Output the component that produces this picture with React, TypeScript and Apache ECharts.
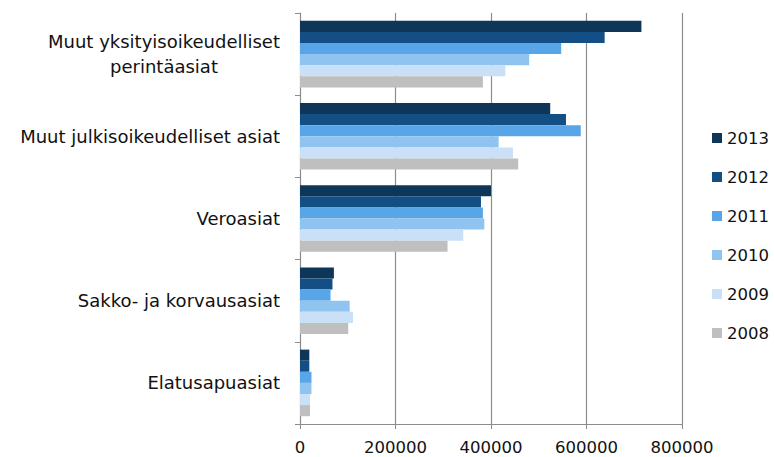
import React, { useEffect, useRef } from "react";
import * as echarts from "echarts";

const categories = [
  "Elatusapuasiat",
  "Sakko- ja korvausasiat",
  "Veroasiat",
  "Muut julkisoikeudelliset asiat",
  "Muut yksityisoikeudelliset\nperintäasiat",
];
const years = ["2013", "2012", "2011", "2010", "2009", "2008"];
const values2013 = [19500, 71000, 400000, 524000, 715000];
const values2012 = [19500, 68000, 379000, 557000, 638000];
const values2011 = [24000, 64000, 383000, 588000, 547000];
const values2010 = [24000, 104000, 386000, 416000, 480000];
const values2009 = [21000, 111000, 342000, 446000, 430000];
const values2008 = [21000, 101000, 309000, 457000, 383000];
const xTicks = [0, 200000, 400000, 600000, 800000];
const colors = ["#0D3659", "#134E84", "#58A6E8", "#8FC4F1", "#C9E0F7", "#BFBFBF"];

const FONT = "DejaVu Sans";
const CAT_SIZE = 18;

export default function App() {
  const ref = useRef<HTMLDivElement>(null);
  useEffect(() => {
    if (!ref.current) return;
    const chart = echarts.init(ref.current, undefined, { renderer: "svg" });
    const ctx = document.createElement("canvas").getContext("2d")!;
    ctx.font = `${CAT_SIZE}px ${FONT}`;
    const firstLineW = Math.ceil(ctx.measureText("Muut yksityisoikeudelliset").width);
    const allValues = [values2013, values2012, values2011, values2010, values2009, values2008];
    chart.setOption({
      animation: false,
      textStyle: { fontFamily: FONT },
      grid: { left: 300, right: 92, top: 13, bottom: 33, containLabel: false },
      legend: {
        data: years,
        orient: "vertical",
        left: 712,
        top: 129,
        padding: 0,
        itemWidth: 10,
        itemHeight: 10,
        itemGap: 21,
        icon: "rect",
        textStyle: { fontFamily: FONT, fontSize: 16.5, color: "#111", padding: [0, 0, 0, 0], lineHeight: 18, overflow: "none" },
      },
      xAxis: {
        type: "value",
        min: 0,
        max: 800000,
        interval: 200000,
        axisLine: { show: true, lineStyle: { color: "#8c8c8c" } },
        axisTick: { show: true, length: 5, lineStyle: { color: "#8c8c8c" } },
        splitLine: { show: true, lineStyle: { color: "#8c8c8c", width: 1.2 } },
        axisLabel: {
          fontFamily: FONT,
          fontSize: 16.5,
          color: "#111",
          margin: 15,
          formatter: (v: number) => (xTicks.includes(v) ? String(v) : ""),
        },
      },
      yAxis: {
        type: "category",
        data: categories,
        axisLine: { show: true, lineStyle: { color: "#8c8c8c" } },
        axisTick: { show: true, length: 5, lineStyle: { color: "#8c8c8c" } },
        axisLabel: {
          fontFamily: FONT,
          fontSize: CAT_SIZE,
          color: "#111",
          margin: 20,
          lineHeight: 25,
          formatter: (v: string) => {
            if (v.includes("\n")) {
              return v
                .split("\n")
                .map((p) => `{c|${p}}`)
                .join("\n");
            }
            return v;
          },
          rich: {
            c: { width: firstLineW, align: "center", fontFamily: FONT, fontSize: CAT_SIZE, color: "#111", lineHeight: 25 },
          },
        },
      },
      series: years.map((y, i) => ({
        name: y,
        type: "bar",
        data: allValues[i],
        barGap: "0%",
        barCategoryGap: "19%",
        itemStyle: { color: colors[i] },
      })),
    });
    return () => chart.dispose();
  }, []);
  return <div ref={ref} style={{ position: "absolute", left: 0, top: 0, width: 774, height: 457 }} />;
}
